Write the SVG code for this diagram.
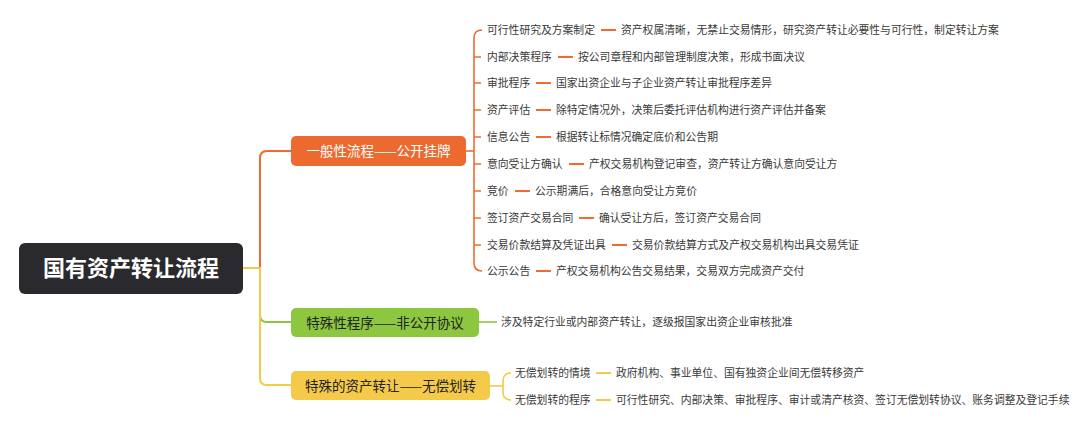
<svg xmlns="http://www.w3.org/2000/svg" width="1080" height="430" viewBox="0 0 1080 430">
<style>
text{font-family:"Noto Sans CJK SC","Microsoft YaHei",sans-serif}
.lbl{font-size:10.8px;fill:#3a3a3a}
.nt{font-size:13.5px;text-anchor:middle}
.o{stroke:#EF6B32;fill:none;stroke-width:1.6}
.g{stroke:#8CC63F;fill:none;stroke-width:2}
.y{stroke:#F5C94A;fill:none;stroke-width:1.6}
.dash{stroke-width:2}
</style>
<rect width="1080" height="430" fill="#ffffff"/>
<g id="connectors">
  <path class="o" style="stroke-width:2" d="M243,268 H260 V158 Q260,151 267,151 H291"/>
  <path class="g" d="M260,268 V315 Q260,322 267,322 H291"/>
  <path class="y" style="stroke-width:2" d="M243,268 H260 V378 Q260,385 267,385 H291"/>
  <path class="o" d="M466,151 H474"/>
  <path class="o" d="M482,30 Q474,30 474,38 V263 Q474,271 482,271"/>
  <path class="o" d="M474,57 H481 M474,83 H481 M474,110 H481 M474,137 H481 M474,164 H481 M474,191 H481 M474,218 H481 M474,245 H481"/>
  <g class="o dash">
    <path d="M601,30 H616"/><path d="M558,57 H573"/><path d="M536,83 H551"/><path d="M536,110 H551"/><path d="M536,137 H551"/><path d="M569,164 H584"/><path d="M515,191 H530"/><path d="M579,218 H594"/><path d="M612,245 H627"/><path d="M536,271 H551"/>
  </g>
  <path class="g" style="stroke-width:1.6" d="M479,322 H497"/>
  <path class="y" d="M490,386 H503"/>
  <path class="y" d="M511,373 Q503,373 503,381 V392 Q503,400 511,400"/>
  <path class="y dash" d="M596,373 H611 M596,400 H611"/>
</g>
<g id="root">
  <rect x="19" y="243" width="224" height="51" rx="6" fill="#2A2A2E"/>
  <text x="131" y="276" font-size="22" font-weight="bold" fill="#ffffff" text-anchor="middle">国有资产转让流程</text>
</g>
<g id="n-general">
  <rect x="291" y="136" width="175" height="30" rx="5" fill="#EC6A2F"/>
  <text class="nt" x="378.5" y="156" fill="#ffffff">一般性流程——公开挂牌</text>
</g>
<g id="n-special">
  <rect x="291" y="308" width="188" height="29" rx="5" fill="#8DC63F"/>
  <text class="nt" x="385" y="327.5" fill="#222222">特殊性程序——非公开协议</text>
</g>
<g id="n-free">
  <rect x="291" y="371" width="199" height="29" rx="5" fill="#F5C94A"/>
  <text class="nt" x="390.5" y="390.5" fill="#222222">特殊的资产转让——无偿划转</text>
</g>
<g id="general-items" class="lbl">
  <g id="g1"><text class="lbl" x="487" y="34">可行性研究及方案制定</text><text class="lbl" x="621" y="34">资产权属清晰，无禁止交易情形，研究资产转让必要性与可行性，制定转让方案</text></g>
  <g id="g2"><text class="lbl" x="487" y="61">内部决策程序</text><text class="lbl" x="578" y="61">按公司章程和内部管理制度决策，形成书面决议</text></g>
  <g id="g3"><text class="lbl" x="487" y="87">审批程序</text><text class="lbl" x="556" y="87">国家出资企业与子企业资产转让审批程序差异</text></g>
  <g id="g4"><text class="lbl" x="487" y="114">资产评估</text><text class="lbl" x="556" y="114">除特定情况外，决策后委托评估机构进行资产评估并备案</text></g>
  <g id="g5"><text class="lbl" x="487" y="141">信息公告</text><text class="lbl" x="556" y="141">根据转让标情况确定底价和公告期</text></g>
  <g id="g6"><text class="lbl" x="487" y="168">意向受让方确认</text><text class="lbl" x="589" y="168">产权交易机构登记审查，资产转让方确认意向受让方</text></g>
  <g id="g7"><text class="lbl" x="487" y="195">竞价</text><text class="lbl" x="535" y="195">公示期满后，合格意向受让方竞价</text></g>
  <g id="g8"><text class="lbl" x="487" y="222">签订资产交易合同</text><text class="lbl" x="599" y="222">确认受让方后，签订资产交易合同</text></g>
  <g id="g9"><text class="lbl" x="487" y="249">交易价款结算及凭证出具</text><text class="lbl" x="632" y="249">交易价款结算方式及产权交易机构出具交易凭证</text></g>
  <g id="g10"><text class="lbl" x="487" y="275">公示公告</text><text class="lbl" x="556" y="275">产权交易机构公告交易结果，交易双方完成资产交付</text></g>
</g>
<g id="special-item">
  <text class="lbl" x="501" y="326">涉及特定行业或内部资产转让，逐级报国家出资企业审核批准</text>
</g>
<g id="free-items">
  <g id="f1"><text class="lbl" x="515" y="377">无偿划转的情境</text><text class="lbl" x="616" y="377">政府机构、事业单位、国有独资企业间无偿转移资产</text></g>
  <g id="f2"><text class="lbl" x="515" y="404">无偿划转的程序</text><text class="lbl" x="616" y="404">可行性研究、内部决策、审批程序、审计或清产核资、签订无偿划转协议、账务调整及登记手续</text></g>
</g>
</svg>
